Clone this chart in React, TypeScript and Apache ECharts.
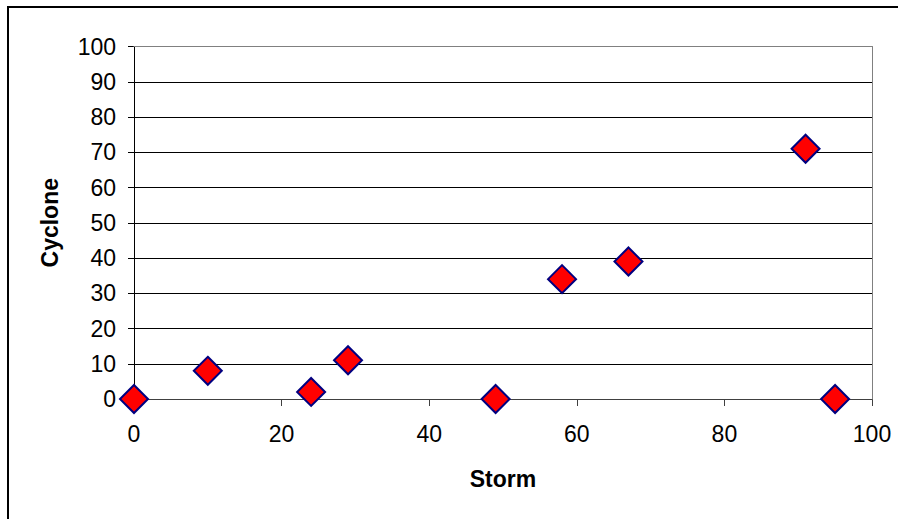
import React, { useEffect, useRef } from "react";
import * as echarts from "echarts";

const stormValues = [0, 10, 24, 29, 49, 58, 67, 91, 95];
const cycloneValues = [0, 8, 2, 11, 0, 34, 39, 71, 0];
const xTicks = [0, 20, 40, 60, 80, 100];
const yTicks = [0, 10, 20, 30, 40, 50, 60, 70, 80, 90, 100];

const FONT = "'Liberation Sans', Arial, sans-serif";

export default function App() {
  const ref = useRef<HTMLDivElement>(null);
  useEffect(() => {
    const chart = echarts.init(ref.current!, null, { renderer: "svg" });
    const points = stormValues.map((x, i) => [x, cycloneValues[i]]);
    chart.setOption({
      animation: false,
      backgroundColor: "#ffffff",
      textStyle: { fontFamily: FONT },
      graphic: [
        {
          type: "polyline",
          z: -10,
          shape: { points: [[8, 560], [8, 7], [940, 7]] },
          style: { fill: "none", stroke: "#000", lineWidth: 2 },
          silent: true,
        },
      ],
      grid: { left: 134, right: 26, top: 46.5, bottom: 120, containLabel: false },
      xAxis: [
        {
          type: "value",
          min: xTicks[0],
          max: xTicks[xTicks.length - 1],
          interval: 20,
          name: "Storm",
          nameLocation: "middle",
          nameGap: 68,
          nameTextStyle: { fontFamily: FONT, fontSize: 23, fontWeight: "bold", color: "#000" },
          axisLine: { show: true, lineStyle: { color: "#404040", width: 1 } },
          axisTick: { show: true, length: 7, lineStyle: { color: "#404040" } },
          axisLabel: { margin: 23, fontFamily: FONT, fontSize: 23, color: "#000" },
          splitLine: { show: false },
        },
        {
          type: "value",
          position: "top",
          min: 0,
          max: 100,
          interval: 20,
          z: 5,
          axisLine: { show: true, onZero: false, lineStyle: { color: "#808080", width: 1 } },
          axisTick: { show: false },
          axisLabel: { show: false },
          splitLine: { show: false },
        },
      ],
      yAxis: [
        {
          type: "value",
          min: yTicks[0],
          max: yTicks[yTicks.length - 1],
          interval: 10,
          name: "Cyclone",
          nameLocation: "middle",
          nameGap: 73,
          nameTextStyle: { fontFamily: FONT, fontSize: 23, fontWeight: "bold", color: "#000" },
          axisLine: { show: true, lineStyle: { color: "#000", width: 1 } },
          axisTick: { show: true, length: 6, lineStyle: { color: "#000" } },
          axisLabel: { margin: 18, fontFamily: FONT, fontSize: 23, color: "#000" },
          splitLine: { show: true, lineStyle: { color: "#000", width: 1 } },
        },
        {
          type: "value",
          position: "right",
          min: 0,
          max: 100,
          interval: 10,
          z: 5,
          axisLine: { show: true, onZero: false, lineStyle: { color: "#808080", width: 1 } },
          axisTick: { show: false },
          axisLabel: { show: false },
          splitLine: { show: false },
        },
      ],
      series: [
        {
          type: "scatter",
          xAxisIndex: 0,
          yAxisIndex: 0,
          symbol: "diamond",
          symbolSize: 28,
          data: points,
          z: 10,
          itemStyle: { color: "#ff0000", borderColor: "#000080", borderWidth: 2, opacity: 1 },
        },
      ],
    });
    return () => chart.dispose();
  }, []);
  return (
    <div
      ref={ref}
      style={{ position: "fixed", left: 0, top: 0, width: 898, height: 519 }}
    />
  );
}
